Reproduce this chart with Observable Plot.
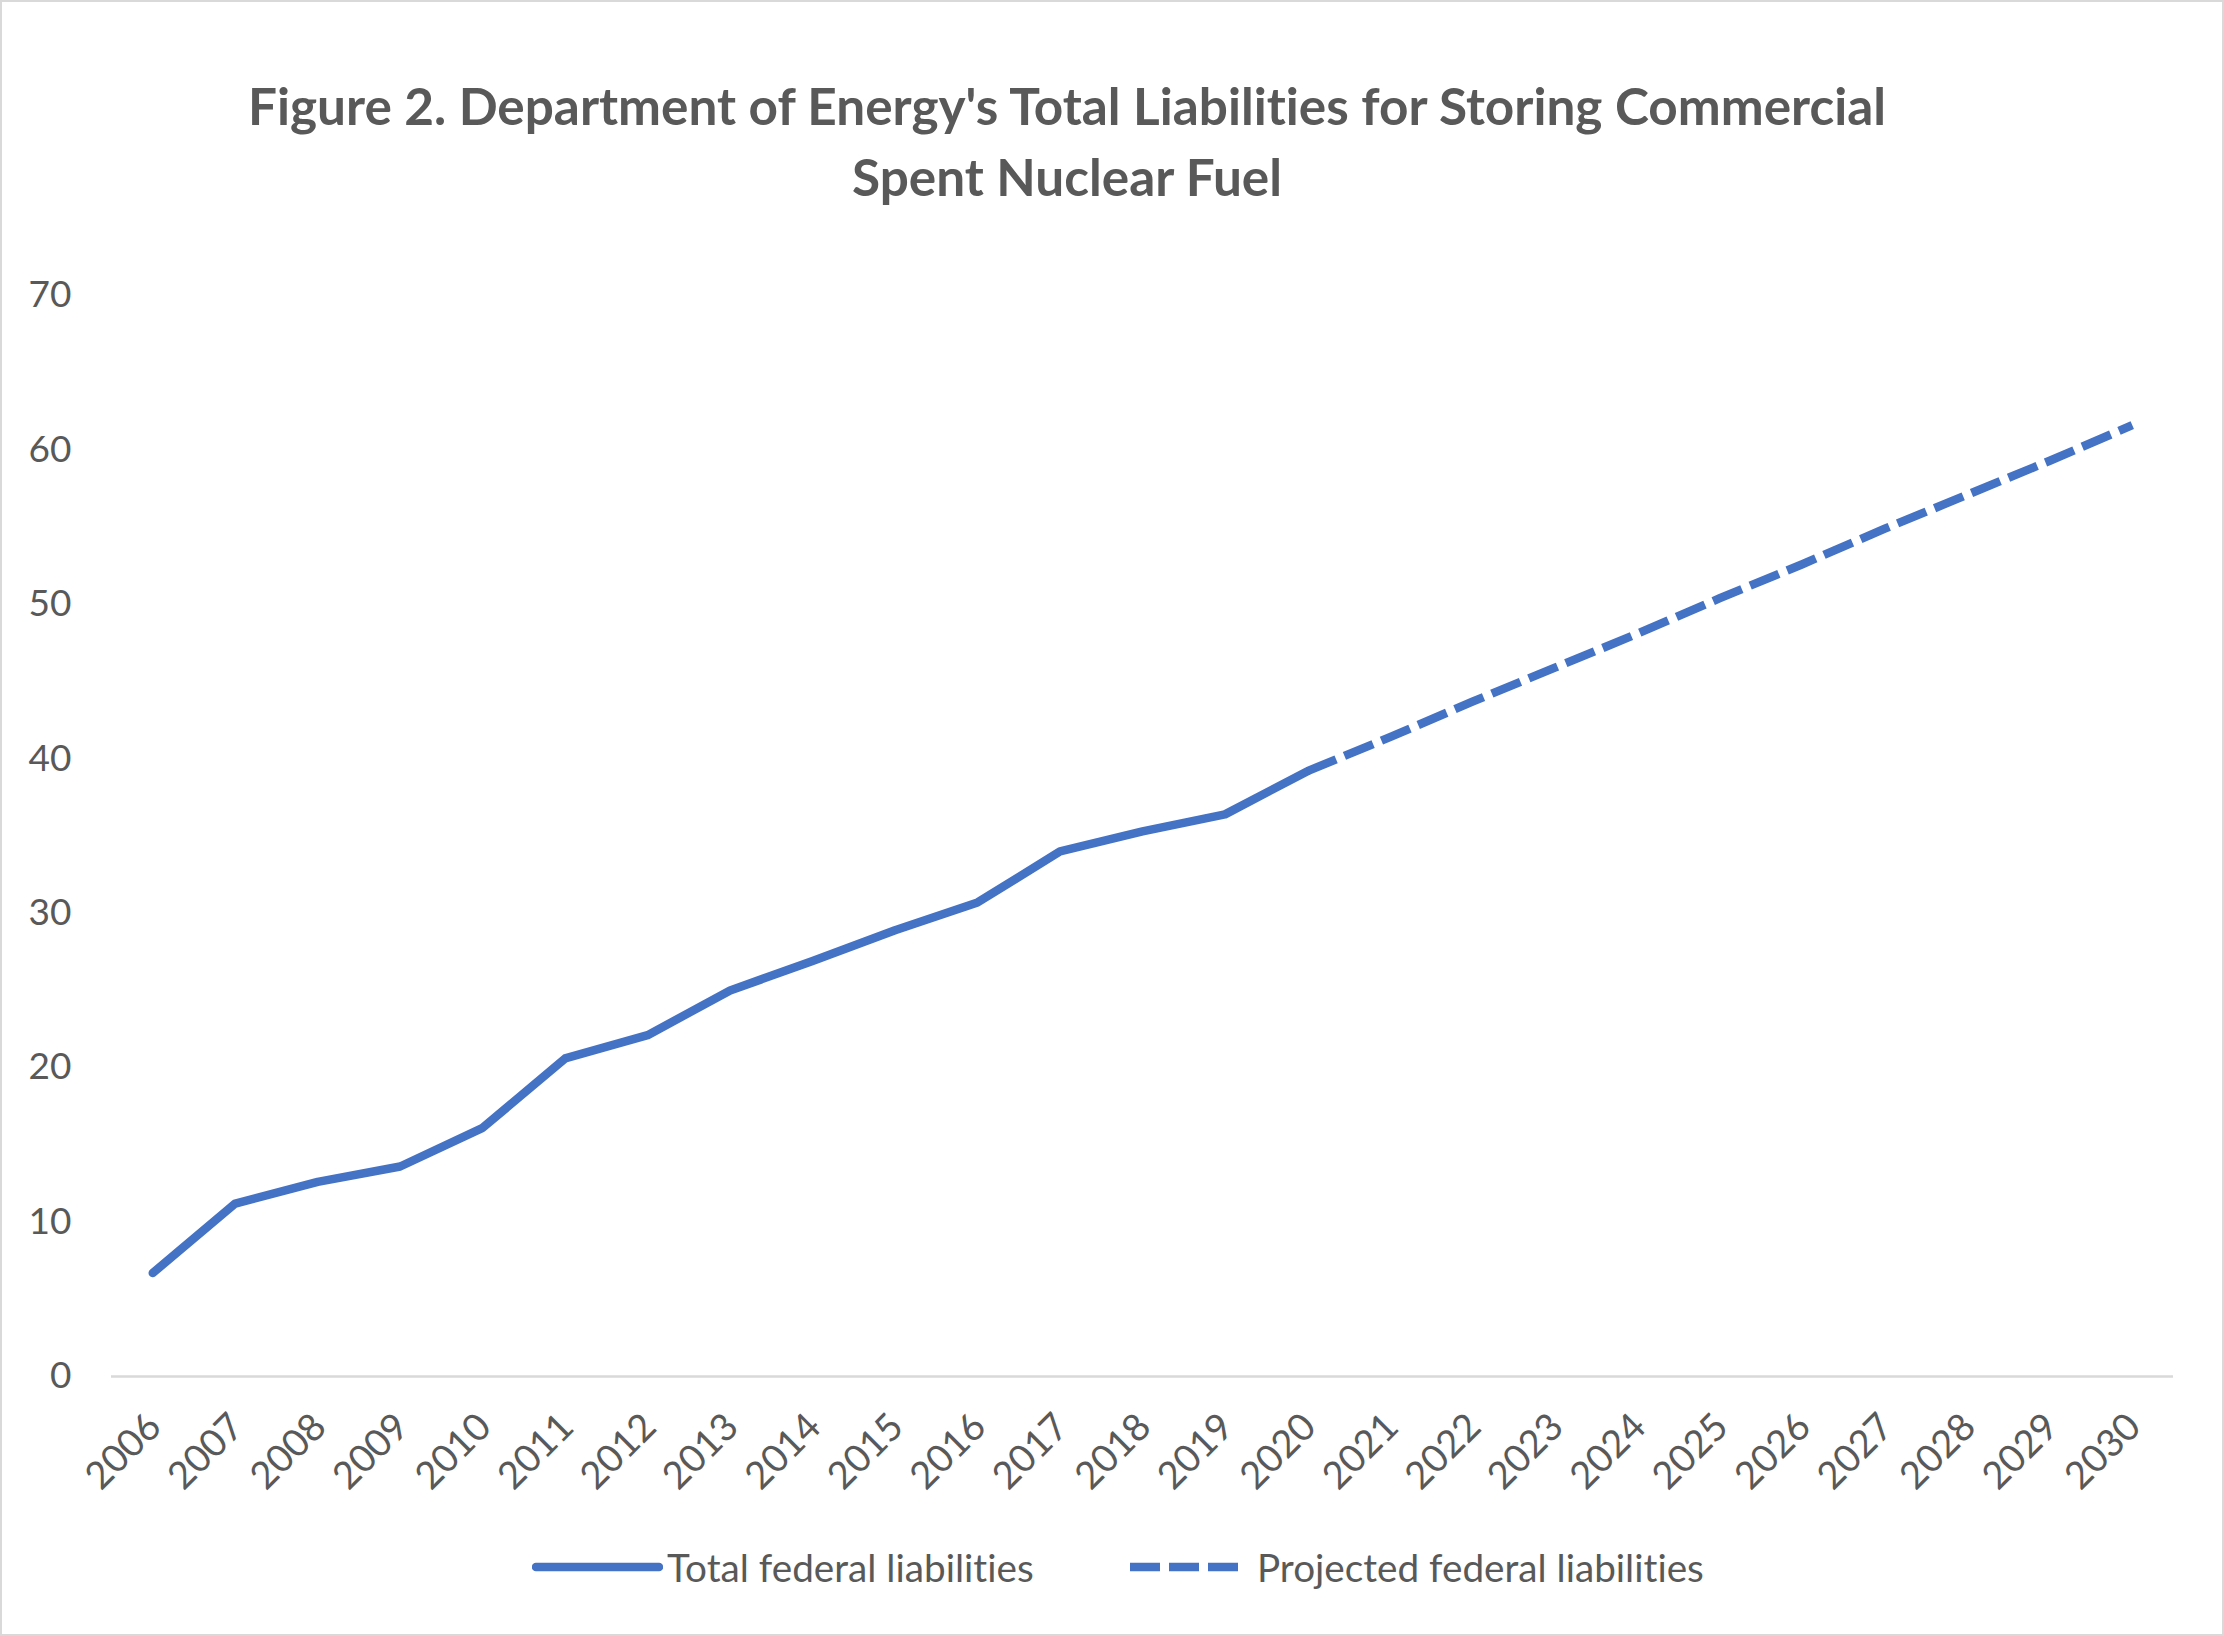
<!DOCTYPE html>
<html>
<head>
<meta charset="utf-8">
<script src="https://cdn.jsdelivr.net/npm/d3@7"></script>
<script src="https://cdn.jsdelivr.net/npm/@observablehq/plot@0.6"></script>
<style>
  html, body { margin: 0; padding: 0; background: #fff; }
  * { font-variant-ligatures: none; font-feature-settings: "liga" 0, "clig" 0; }
  #chart { position: relative; width: 2224px; height: 1636px; background: #fff; overflow: hidden; }
  #border { position: absolute; left: 0; top: 0; width: 2224px; height: 1636px; box-sizing: border-box; border: 2px solid #d9d9d9; pointer-events: none; z-index: 5; }
  #title { position: absolute; left: 0; top: 70px; width: 2134px; text-align: center; font-family: Lato, "Noto Sans", sans-serif; font-weight: 700; font-size: 51.3px; line-height: 71px; color: #595959; }
  #plot { position: absolute; left: 0; top: 0; }
  .leg { position: absolute; font-family: Lato, "Noto Sans", sans-serif; font-size: 38.7px; color: #595959; line-height: 44px; white-space: nowrap; }
  .sw { position: absolute; }
</style>
</head>
<body>
<div id="chart">
  <div id="title">Figure 2. Department of Energy's Total Liabilities for Storing Commercial<br>Spent Nuclear Fuel</div>
  <div id="plot"></div>
  <svg class="sw" style="left:532px; top:1557px" width="131" height="20"><line x1="4" y1="10" x2="127" y2="10" stroke="#4472C4" stroke-width="8.5" stroke-linecap="round"/></svg>
  <div class="leg" style="left:667px; top:1545px">Total federal liabilities</div>
  <svg class="sw" style="left:1130px; top:1557px" width="110" height="20"><line x1="0" y1="10" x2="108" y2="10" stroke="#4472C4" stroke-width="8.5" stroke-dasharray="30,9"/></svg>
  <div class="leg" style="left:1257px; top:1545px">Projected federal liabilities</div>
  <div id="border"></div>
</div>
<script>
// Category labels (x axis)
const years = ["2006","2007","2008","2009","2010","2011","2012","2013","2014","2015","2016","2017","2018","2019","2020","2021","2022","2023","2024","2025","2026","2027","2028","2029","2030"];
// Total federal liabilities (billions), 2006–2020
const totalYears = years.slice(0, 15);
const totalValues = [6.7, 11.2, 12.6, 13.6, 16.1, 20.6, 22.1, 25.0, 26.9, 28.9, 30.7, 34.0, 35.3, 36.4, 39.2];
// Projected federal liabilities, 2020–2030
const projYears = years.slice(14);
const projValues = [39.2, 41.4, 43.7, 45.9, 48.1, 50.4, 52.6, 54.9, 57.1, 59.3, 61.6];
// y tick labels
const yTicks = [0, 10, 20, 30, 40, 50, 60, 70];

const total = totalYears.map((year, i) => ({year, value: totalValues[i]}));
const proj = projYears.map((year, i) => ({year, value: projValues[i]}));

const chart = Plot.plot({
  width: 2224,
  height: 1520,
  marginTop: 295,
  marginBottom: 144,
  marginLeft: 111,
  marginRight: 51,
  style: {fontFamily: "Lato, 'Noto Sans', sans-serif", fontSize: "37px", color: "#595959", background: "transparent", overflow: "visible"},
  x: {type: "point", domain: years, padding: 0.5, round: false},
  y: {domain: [0, 70]},
  marks: [
    Plot.ruleY([0], {stroke: "#d9d9d9", strokeWidth: 2.5}),
    Plot.axisY({ticks: yTicks, tickSize: 0, tickPadding: 40, fontSize: 37, label: null}),
    Plot.axisX({tickRotate: -45, tickSize: 0, tickPadding: 44, dx: 2, fontSize: 38, label: null}),
    Plot.line(total, {x: "year", y: "value", stroke: "#4472C4", strokeWidth: 8.5, strokeLinecap: "round", strokeLinejoin: "round"}),
    Plot.line(proj, {x: "year", y: "value", stroke: "#4472C4", strokeWidth: 8.5, strokeLinecap: "butt", strokeLinejoin: "round", strokeDasharray: "31,9"})
  ]
});
document.getElementById("plot").appendChild(chart);
</script>
</body>
</html>
